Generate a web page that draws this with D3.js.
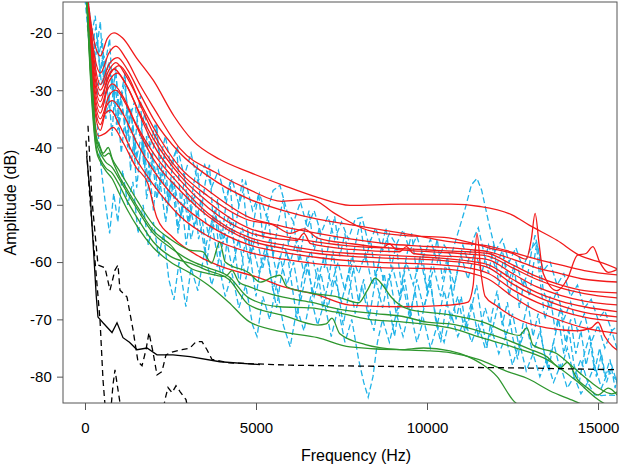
<!DOCTYPE html>
<html><head><meta charset="utf-8">
<script src="https://cdn.jsdelivr.net/npm/d3@7"></script>
<style>body{margin:0;background:#fff}svg{display:block}</style>
</head><body>
<svg id="chart" width="624" height="466"></svg>
<script>
// ---------- DATA (frequency Hz, amplitude dB) ----------
const xTicks = [0, 5000, 10000, 15000];
const yTicks = [-20, -30, -40, -50, -60, -70, -80];

const red1 = [[60,-13],[250,-21],[450,-24],[650,-21],[850,-20],[1100,-20.9],[1500,-24.3],[2000,-28.3],[2600,-34.5],[3150,-38.8],[3950,-42.1],[4800,-44.3],[5800,-46.6],[6800,-48.7],[7750,-50.1],[9200,-49.9],[10700,-49.9],[11550,-50.3],[12500,-51.8],[13000,-53.6],[13800,-56.2],[14450,-58.8],[15150,-60.2],[15650,-61.4]];
const red2 = [[60,-13],[250,-23],[450,-27],[700,-23.5],[900,-22.3],[1200,-24.5],[1600,-29],[2000,-33],[2780,-40.2],[3860,-44.5],[4850,-47.5],[5750,-49.4],[6600,-49],[7300,-51.5],[8250,-54.4],[9200,-55.3],[10500,-55.7],[11200,-56.5],[11800,-57.5],[12500,-58.5],[12900,-59.5],[13050,-56],[13160,-51.5],[13280,-57],[13400,-62],[13800,-65],[14100,-63],[14400,-58.8],[14650,-58.5],[14850,-57.3],[15050,-60],[15300,-61.8],[15650,-61]];
const red3 = [[60,-13],[250,-24],[450,-29],[700,-25.5],[950,-24.3],[1250,-26.5],[1600,-30.5],[2000,-35],[2780,-41],[3600,-45],[4800,-49],[5800,-51],[6800,-52.5],[7800,-53.5],[8800,-54.5],[9800,-55.5],[10500,-56.3],[11200,-56.8],[11800,-57.2],[12500,-58.3],[13200,-59.5],[13900,-60.5],[14600,-61.5],[15650,-62.3]];
const red4 = [[60,-13],[250,-25],[450,-30],[700,-26.5],[900,-25.2],[1200,-27.5],[1600,-32],[2000,-36.5],[2780,-43.5],[3600,-47.5],[4800,-52.2],[5800,-53.8],[6800,-55],[7800,-56],[8800,-56.8],[9800,-57.2],[10400,-57.4],[11200,-57.8],[11800,-58.2],[12500,-59.5],[13200,-61],[13900,-62],[14600,-63],[15650,-63.5]];
const red5 = [[60,-13],[250,-26],[450,-31],[750,-27],[1000,-25.7],[1300,-28],[1650,-33],[2000,-37.5],[2780,-44.3],[3600,-48.5],[4800,-52.7],[5500,-53.5],[6000,-55],[6400,-54.2],[6800,-55.8],[7800,-56.8],[8800,-57.5],[9800,-57.8],[10400,-58],[11200,-58.2],[11800,-58.5],[12500,-60.5],[13200,-62.5],[13900,-64],[14600,-65],[15650,-65.4]];
const red6 = [[60,-13],[250,-27],[450,-32],[650,-28],[850,-26.3],[1150,-28.5],[1600,-34],[2000,-38.5],[2780,-44.9],[3600,-49.5],[4800,-54.1],[5800,-55.5],[6800,-56.5],[7800,-57.2],[8700,-57.5],[8900,-56.8],[9100,-57.8],[9800,-58.1],[10400,-58.3],[11200,-58.6],[11800,-59],[12500,-61],[13200,-63],[13900,-64.5],[14600,-65.5],[15650,-66.3]];
const red7 = [[60,-13],[250,-28],[450,-33],[700,-28.5],[950,-27],[1250,-29.5],[1650,-35],[2000,-39.5],[2780,-45.7],[3600,-50.5],[4800,-54.8],[5700,-56],[6200,-56.2],[6400,-55],[6600,-56.8],[7800,-57.8],[9200,-58.2],[9400,-57.3],[9600,-58.5],[10400,-58.9],[11200,-59.2],[11800,-59.6],[12500,-62],[13200,-64.3],[13900,-65.8],[14600,-66.8],[15650,-67.5]];
const red8 = [[60,-13],[250,-29],[450,-34],[650,-30],[800,-28.9],[1100,-31],[1500,-36],[2000,-41],[2780,-46.6],[3600,-51.5],[4800,-55.7],[5800,-57],[6800,-58],[7800,-58.5],[8800,-58.8],[9800,-59.1],[10400,-59.3],[11200,-59.8],[11800,-60.5],[12500,-63],[13200,-65.3],[13900,-66.8],[14600,-67.8],[15650,-68.7]];
const red9 = [[60,-13],[250,-30],[450,-35],[700,-31],[900,-30],[1200,-32.5],[1600,-37.5],[2000,-42],[2780,-47.5],[3600,-52],[4800,-56.2],[5800,-57.6],[6800,-58.5],[7800,-59],[8800,-59.3],[9800,-59.5],[10400,-59.7],[11200,-60.2],[11800,-61],[12500,-63.8],[13200,-66],[13900,-67.6],[14600,-68.8],[15650,-69.6]];
const red10 = [[60,-13],[250,-31],[450,-36],[650,-32.5],[800,-31.8],[1100,-34],[1500,-39],[2000,-44],[2780,-49.7],[3600,-53.5],[4800,-57],[5800,-58.3],[6800,-59.2],[7800,-59.8],[8800,-60.1],[9800,-60.3],[10400,-60.5],[11200,-61],[11800,-62],[12500,-64.8],[13200,-67],[13900,-68.5],[14600,-69.6],[15650,-70.4]];
const red11 = [[60,-13],[250,-32],[450,-37],[600,-34],[750,-33.5],[1000,-36],[1400,-41],[2000,-46.5],[2780,-52],[3600,-55.5],[4800,-58.3],[5800,-59.5],[6800,-60.3],[7800,-60.7],[8800,-61],[9800,-61.1],[10400,-61.2],[11200,-61.8],[11800,-63],[12500,-66],[13200,-68.5],[13900,-70.2],[14600,-71.5],[15650,-72.5]];
const red12 = [[60,-13],[200,-30],[400,-38],[600,-37.5],[820,-36.5],[1100,-39],[1500,-43.5],[1840,-46.3],[2100,-52.2],[2570,-55.7],[3360,-59.1],[3860,-60.5],[5120,-62.8],[5790,-64.3],[6780,-65.7],[7750,-67.5],[9210,-67.8],[10670,-67.5],[11200,-67],[11350,-64],[11460,-55],[11580,-62],[11700,-66],[12000,-67.5],[12500,-69.5],[13500,-71.5],[14400,-72],[14800,-71.5],[15000,-70.5],[15200,-73],[15650,-75.7]];

const green1 = [[50,-14],[200,-28],[330,-38],[420,-39.5],[530,-41],[680,-40],[800,-42],[1000,-44],[1250,-46.5],[1550,-49.5],[2000,-53.5],[2500,-56],[3070,-57.9],[3450,-58.2],[3700,-60.2],[3940,-56.5],[4100,-60],[4800,-61.9],[5120,-63.5],[5500,-62.6],[5700,-62.3],[5900,-64.3],[6600,-65.4],[7400,-66.1],[8000,-67.1],[8250,-65],[8480,-62.8],[8700,-64],[8950,-66.1],[9500,-68.3],[10670,-69.2],[11600,-70.4],[12700,-72.8],[12920,-71.5],[13100,-74.5],[13800,-76],[14300,-78.5],[14700,-80.5],[15000,-81.9],[15400,-83],[15650,-82.3]];
const green2 = [[50,-14],[200,-30],[330,-39],[450,-41],[600,-42.5],[800,-43.5],[1000,-45.5],[1250,-48],[1550,-51],[2000,-55],[2500,-57.5],[3070,-59.7],[3600,-61],[4200,-62.5],[4800,-66.3],[5700,-67.8],[6600,-68],[7300,-68.7],[8300,-70],[9200,-70.4],[10670,-71.5],[11600,-73.2],[12500,-74.8],[13500,-77],[14400,-80.9],[15000,-84],[15600,-86]];
const green3 = [[50,-14],[200,-31],[330,-40],[450,-42],[600,-43.5],[800,-44.5],[1000,-46.5],[1250,-49.5],[1550,-52.5],[2000,-56.5],[2500,-59],[3070,-60.2],[3600,-61.5],[4200,-63],[4800,-67.5],[5800,-69.3],[6800,-71],[7050,-70.8],[7220,-69.8],[7450,-72.5],[8200,-74.4],[9200,-75.3],[10100,-75.5],[10670,-75.8],[11500,-77],[12300,-79],[13000,-80.5],[13600,-82.5],[14200,-84],[14800,-85.5]];
const green4 = [[50,-14],[200,-32],[330,-40.5],[450,-42.5],[600,-44],[800,-45.5],[1000,-48],[1250,-51],[1550,-54],[2000,-57.5],[2500,-60],[3070,-61.9],[3600,-64],[4200,-67],[4800,-70.4],[5800,-72.2],[6800,-73.2],[7750,-74.8],[9210,-75.3],[9900,-75],[10670,-75.5],[11200,-76.5],[11550,-77.6],[12050,-80],[12500,-84],[12900,-86]];
const green5 = [[50,-14],[200,-29],[330,-38.5],[430,-40],[560,-41.5],[700,-41],[850,-43],[1000,-45],[1250,-47.5],[1550,-50.5],[2000,-54.5],[2500,-57],[3070,-61],[3600,-62],[4100,-62.5],[4300,-61.5],[4500,-63.5],[4800,-64.3],[5700,-66],[6600,-67],[7500,-68.3],[8500,-69],[9300,-69.5],[10000,-70.5],[10670,-70.8],[11500,-72],[12300,-73.5],[13000,-75.2],[13500,-76.5],[13900,-78.5],[14100,-77.5],[14400,-80.5],[14700,-82],[15000,-83.2],[15300,-82],[15600,-83.5]];

const cyan1 = [[0,-12],[100,-15],[200,-20],[300,-17],[400,-24],[500,-21],[600,-28],[700,-25],[800,-30],[900,-27],[1000,-33],[1150,-29],[1300,-35],[1450,-32],[1600,-38],[1750,-34],[1900,-40],[2050,-36],[2200,-42],[2350,-38],[2500,-43],[2700,-40],[2900,-45],[3100,-41],[3300,-46],[3500,-43],[3700,-47],[3900,-44],[4100,-49],[4300,-45.5],[4500,-50],[4700,-46],[4900,-51],[5100,-48],[5300,-52],[5500,-47.5],[5700,-46.6],[5900,-51],[6100,-53],[6300,-49.5],[6500,-54],[6700,-51],[6900,-55],[7100,-52],[7300,-56],[7500,-53],[7700,-56],[7900,-52.5],[8100,-52.2],[8300,-57],[8500,-54],[8700,-58],[8900,-55],[9100,-57],[9300,-54.4],[9500,-58],[9700,-55.5],[9900,-59],[10100,-56],[10300,-60],[10500,-57],[10700,-59],[10900,-55],[11100,-51],[11300,-46.5],[11460,-45.4],[11600,-47.5],[11800,-53],[12000,-58],[12200,-56],[12400,-60],[12600,-57.5],[12800,-61],[13000,-58],[13200,-56.5],[13400,-61.5],[13600,-60],[13800,-64],[14000,-62],[14200,-66],[14400,-64],[14600,-68],[14800,-66.5],[15000,-70],[15200,-68.5],[15400,-72],[15600,-71]];
const cyan2 = [[0,-13],[120,-18],[240,-24],[360,-21],[480,-29],[600,-26],[720,-34],[840,-30],[960,-37],[1100,-33],[1250,-40],[1400,-36],[1550,-43],[1700,-39],[1850,-46],[2000,-42],[2150,-48],[2300,-44],[2450,-50],[2600,-46],[2800,-52],[3000,-48],[3200,-54],[3400,-49],[3600,-55],[3800,-51],[4000,-57],[4200,-52],[4400,-58],[4600,-54],[4800,-60],[5000,-55],[5200,-61],[5400,-56],[5600,-62],[5800,-57],[6000,-60],[6200,-56],[6400,-62],[6600,-58],[6800,-63],[7000,-59],[7200,-64],[7400,-60],[7600,-65],[7800,-59],[8000,-62],[8200,-58.5],[8400,-64],[8600,-60],[8800,-65],[9000,-61],[9200,-66],[9400,-60],[9600,-64],[9800,-59],[10000,-65],[10200,-61],[10400,-66],[10600,-60],[10800,-64],[11000,-59],[11200,-63],[11400,-58],[11600,-62],[11800,-57],[12000,-61],[12200,-58],[12400,-63],[12600,-60],[12800,-64],[12950,-62],[13060,-58],[13160,-55.3],[13260,-58],[13400,-65],[13600,-68],[13800,-65],[14000,-70],[14200,-67],[14400,-72],[14600,-69],[14800,-74],[15000,-71],[15200,-75],[15400,-72],[15600,-76]];
const cyan3 = [[0,-14],[120,-22],[240,-30],[360,-36],[480,-44],[600,-50],[720,-55],[840,-48],[960,-53],[1100,-44],[1250,-50],[1400,-46],[1550,-55],[1700,-50],[1850,-57],[2000,-53],[2150,-59],[2300,-55],[2450,-63],[2600,-66.6],[2750,-60],[2950,-67.8],[3100,-61],[3300,-65],[3500,-58],[3700,-64],[3900,-60],[4100,-66],[4300,-62],[4500,-68],[4700,-64],[4900,-71],[5030,-73],[5200,-66],[5400,-70],[5600,-64],[5800,-71],[6000,-74.8],[6200,-68],[6400,-72],[6600,-66],[6800,-71],[7000,-67],[7200,-73],[7400,-68],[7600,-74],[7800,-70],[8000,-77],[8150,-81],[8280,-83.6],[8420,-80],[8550,-74],[8700,-70],[8900,-74],[9100,-69],[9300,-73],[9500,-68],[9700,-74],[9900,-70],[10100,-75],[10300,-71],[10500,-74],[10700,-69],[10900,-73],[11100,-70],[11300,-74],[11500,-71],[11700,-75],[11900,-72],[12100,-76],[12300,-73],[12500,-78],[12700,-74],[12900,-79],[13100,-76],[13300,-80],[13500,-77],[13700,-81],[13900,-78],[14100,-82],[14300,-80],[14500,-83],[14700,-81],[14900,-83.2],[15100,-83.3],[15300,-83.2],[15600,-83.3]];
const cyan4 = [[0,-12],[100,-16],[200,-22],[320,-19],[440,-27],[560,-24],[680,-32],[800,-28],[920,-36],[1050,-31],[1200,-38],[1350,-34],[1500,-42],[1650,-38],[1800,-46],[1950,-41],[2100,-49],[2250,-44],[2400,-51],[2550,-46],[2700,-54],[2900,-49],[3100,-56],[3300,-51],[3500,-58],[3700,-53],[3900,-60],[4100,-55],[4300,-61],[4500,-56],[4700,-63],[4900,-57],[5100,-62],[5300,-58],[5500,-65],[5700,-59],[5900,-64],[6100,-60],[6300,-67],[6500,-61],[6700,-66],[6900,-62],[7100,-68],[7300,-63],[7500,-67],[7700,-62],[7900,-69],[8100,-64],[8300,-70],[8500,-63],[8700,-68],[8900,-62],[9100,-69],[9300,-64],[9500,-70],[9700,-63],[9900,-68],[10100,-64],[10300,-71],[10500,-65],[10700,-70],[10900,-66],[11100,-72],[11300,-67],[11500,-73],[11700,-68],[11900,-72],[12100,-67],[12300,-73],[12500,-69],[12700,-75],[12900,-71],[13100,-76],[13300,-72],[13500,-78],[13700,-74],[13900,-79],[14100,-75],[14300,-80],[14500,-77],[14700,-81],[14900,-78],[15100,-82],[15300,-79],[15600,-81]];
const cyan5 = [[0,-13],[80,-17],[170,-25],[260,-20],[350,-31],[430,-27],[520,-24],[610,-35],[700,-31],[790,-38],[880,-29],[970,-34],[1060,-41],[1150,-36],[1240,-33],[1330,-44],[1420,-39],[1510,-47],[1600,-42],[1700,-38],[1800,-49],[1900,-45],[2000,-51],[2120,-43],[2240,-48],[2360,-53],[2480,-47],[2600,-45],[2720,-55],[2840,-50],[2960,-57],[3080,-52],[3200,-48],[3320,-56],[3440,-53],[3560,-60],[3680,-55],[3800,-51],[3920,-58],[4040,-62],[4160,-56],[4280,-53],[4400,-59],[4520,-64],[4640,-58],[4760,-55],[4880,-61],[5000,-66],[5150,-60],[5300,-57],[5450,-63],[5600,-68],[5750,-62],[5900,-58],[6050,-64],[6200,-70],[6350,-63],[6500,-59],[6650,-66],[6800,-61],[6950,-68],[7100,-64],[7250,-58],[7400,-65],[7550,-71],[7700,-66],[7850,-61],[8000,-67],[8150,-63],[8300,-69],[8450,-72],[8600,-66],[8750,-62],[8900,-68],[9050,-73],[9200,-67],[9350,-63],[9500,-69],[9650,-65],[9800,-71],[9950,-67],[10100,-63],[10250,-70],[10400,-74],[10550,-68],[10700,-64],[10850,-70],[11000,-66],[11150,-72],[11300,-68],[11450,-64],[11600,-70],[11750,-75],[11900,-69],[12050,-65],[12200,-71],[12350,-67],[12500,-73],[12650,-77],[12800,-71],[12950,-67],[13100,-73],[13250,-69],[13400,-75],[13550,-79],[13700,-74],[13850,-70],[14000,-76],[14150,-72],[14300,-78],[14450,-81],[14600,-76],[14750,-73],[14900,-79],[15050,-75],[15200,-80],[15350,-77],[15500,-82],[15600,-79]];
const cyan6 = [[0,-11],[90,-14],[180,-19],[270,-26],[360,-22],[450,-18],[540,-29],[630,-24],[720,-21],[810,-31],[900,-26],[990,-36],[1080,-30],[1170,-27],[1260,-38],[1350,-33],[1440,-41],[1530,-35],[1620,-31],[1710,-43],[1800,-38],[1900,-46],[2000,-40],[2100,-36],[2200,-45],[2320,-41],[2440,-49],[2560,-43],[2680,-40],[2800,-50],[2920,-45],[3040,-53],[3160,-47],[3280,-43],[3400,-51],[3520,-46],[3640,-43],[3760,-54],[3880,-49],[4000,-56],[4120,-50],[4240,-46],[4360,-55],[4480,-51],[4600,-45.5],[4720,-53],[4840,-58],[4960,-52],[5080,-48],[5200,-56],[5350,-52],[5500,-59],[5650,-53],[5800,-49],[5950,-57],[6100,-53],[6250,-60],[6400,-55],[6550,-51],[6700,-58],[6850,-54],[7000,-61],[7150,-56],[7300,-52],[7450,-59],[7600,-55],[7750,-62],[7900,-57],[8050,-53],[8200,-60],[8350,-56],[8500,-63],[8650,-58],[8800,-54],[8950,-61],[9100,-57],[9250,-64],[9400,-59],[9550,-55],[9700,-62],[9850,-58],[10000,-65],[10150,-60],[10300,-56],[10450,-63],[10600,-59],[10750,-66],[10900,-61],[11050,-57],[11200,-60],[11350,-56],[11500,-54],[11650,-58],[11800,-62],[11950,-57],[12100,-64],[12250,-59],[12400,-66],[12550,-61],[12700,-68],[12850,-63],[13000,-66],[13100,-61],[13200,-57],[13300,-63],[13450,-70],[13600,-66],[13750,-72],[13900,-68],[14050,-74],[14200,-70],[14350,-76],[14500,-72],[14650,-78],[14800,-74],[14950,-80],[15100,-76],[15250,-81],[15400,-78],[15600,-82]];

const blackSolid = [[50,-41.5],[150,-48],[250,-58],[330,-66],[380,-69.6],[526,-70.6],[790,-72.3],[936,-70.6],[1111,-73.2],[1300,-74],[1520,-75.3],[1813,-75],[2105,-76.2],[2573,-76.2],[3070,-76.5],[3947,-77.4],[5117,-77.9]];
const blackDash1 = [[88,-36.2],[205,-49.2],[380,-60.5],[585,-61],[731,-64.9],[877,-61.4],[965,-60.5],[1023,-64.9],[1228,-66.1],[1404,-71.8],[1550,-77.4],[1667,-78.1],[1784,-75.3],[1871,-72.3],[1988,-75.7],[2105,-79.7],[2251,-79.1],[2368,-76.2],[2544,-75.7],[2836,-75.3],[3070,-75],[3246,-73.9],[3421,-73.9],[3567,-75.3],[3713,-77],[4240,-77.6],[6000,-78],[10000,-78.3],[13000,-78.5],[15600,-78.8]];
const blackDash2 = [[29,-38.8],[146,-49.2],[292,-59.7],[439,-70.1],[526,-80.5],[585,-84.9],[614,-87.5],[731,-87.5],[819,-81.4],[877,-78.8],[965,-82.3],[1053,-85.7],[1140,-89],[2193,-89],[2339,-84],[2427,-81.9],[2544,-82.8],[2661,-81.6],[2778,-82.6],[2953,-84],[3070,-87.5]];

const redSeries = [red1, red2, red3, red4, red5, red6, red7, red8, red9, red10, red11, red12];
const greenSeries = [green1, green2, green3, green4, green5];
const cyanSeries = [cyan1, cyan2, cyan3, cyan4, cyan5, cyan6];

// ---------- DRAW ----------
const svg = d3.select("#chart");
const L = 63, R = 617, T = 2, B = 403;
const x = d3.scaleLinear().domain([-643, 15555]).range([L, R]);
const y = d3.scaleLinear().domain([-84.6, -14.6]).range([B, T]);
const FONT = "Liberation Sans, Arial, Helvetica, sans-serif";

svg.append("defs").append("clipPath").attr("id", "plotclip")
  .append("rect").attr("x", L).attr("y", T).attr("width", R - L).attr("height", B - T);

const plot = svg.append("g").attr("clip-path", "url(#plotclip)");
const lineSmooth = d3.line().x(d => x(d[0])).y(d => y(d[1])).curve(d3.curveMonotoneX);
const lineStraight = d3.line().x(d => x(d[0])).y(d => y(d[1]));

plot.selectAll(".cyan").data(cyanSeries).join("path")
  .attr("fill", "none").attr("stroke", "#1fb3e8").attr("stroke-width", 1.3)
  .attr("stroke-dasharray", "6,3").attr("d", lineStraight);
plot.selectAll(".red").data(redSeries).join("path")
  .attr("fill", "none").attr("stroke", "#f21a1a").attr("stroke-width", 1.3)
  .attr("d", lineSmooth);
plot.selectAll(".green").data(greenSeries).join("path")
  .attr("fill", "none").attr("stroke", "#2e962e").attr("stroke-width", 1.3)
  .attr("d", lineSmooth);
plot.append("path").datum(blackSolid).attr("fill", "none").attr("stroke", "#000")
  .attr("stroke-width", 1.3).attr("d", lineStraight);
plot.selectAll(".bd").data([blackDash1, blackDash2]).join("path")
  .attr("fill", "none").attr("stroke", "#000").attr("stroke-width", 1.3)
  .attr("stroke-dasharray", "6,4").attr("d", lineStraight);

// frame
svg.append("rect").attr("x", L).attr("y", T).attr("width", R - L).attr("height", B - T)
  .attr("fill", "none").attr("stroke", "#555").attr("stroke-width", 1);

const xAxis = svg.append("g").attr("transform", `translate(0,${B})`)
  .call(d3.axisBottom(x).tickValues(xTicks).tickFormat(d => String(d)).tickSize(7).tickSizeOuter(0));
const yAxis = svg.append("g").attr("transform", `translate(${L},0)`)
  .call(d3.axisLeft(y).tickValues(yTicks).tickFormat(d => String(d)).tickSize(6).tickSizeOuter(0));
[xAxis, yAxis].forEach(a => {
  a.select(".domain").remove();
  a.selectAll("line").attr("stroke", "#555");
  a.selectAll("text").attr("font-family", FONT).attr("font-size", 15).attr("fill", "#000");
});
xAxis.selectAll("text").attr("dy", "1.3em");
yAxis.selectAll("text").attr("dx", "-0.15em");

svg.append("text").attr("x", 356).attr("y", 461)
  .attr("text-anchor", "middle").attr("font-family", FONT)
  .attr("font-size", 16).text("Frequency (Hz)");
svg.append("text").attr("transform", `translate(16,${(T + B) / 2}) rotate(-90)`)
  .attr("text-anchor", "middle").attr("font-family", FONT)
  .attr("font-size", 16).text("Amplitude (dB)");
</script>
</body></html>
